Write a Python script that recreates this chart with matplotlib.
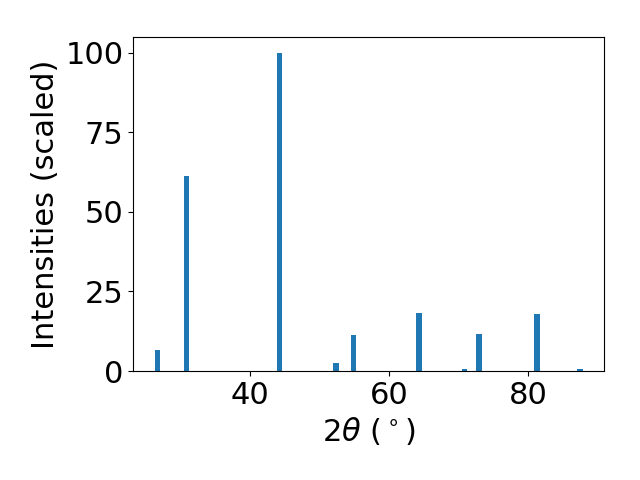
import matplotlib
matplotlib.use('Agg')
import matplotlib.pyplot as plt

# peak positions (2theta, deg) and scaled intensities
two_theta = [26.7, 30.9, 44.25, 52.4, 54.95, 64.35, 70.9, 73.0, 81.35, 87.5]
intensity = [6.6, 61.4, 100.0, 2.6, 11.3, 18.1, 0.5, 11.5, 17.8, 0.5]

plt.rcParams['font.size'] = 22

fig, ax = plt.subplots(figsize=(6.4, 4.8), dpi=100)
ax.bar(two_theta, intensity, width=0.8, color='#1f77b4')
ax.set_xlabel(r'$2\theta$ ($^\circ$)')
ax.set_ylabel('Intensities (scaled)')
ax.set_yticks([0, 25, 50, 75, 100])
ax.set_xticks([40, 60, 80])

fig.subplots_adjust(left=0.208, right=0.944, top=0.923, bottom=0.227)
fig.savefig('out.png')
